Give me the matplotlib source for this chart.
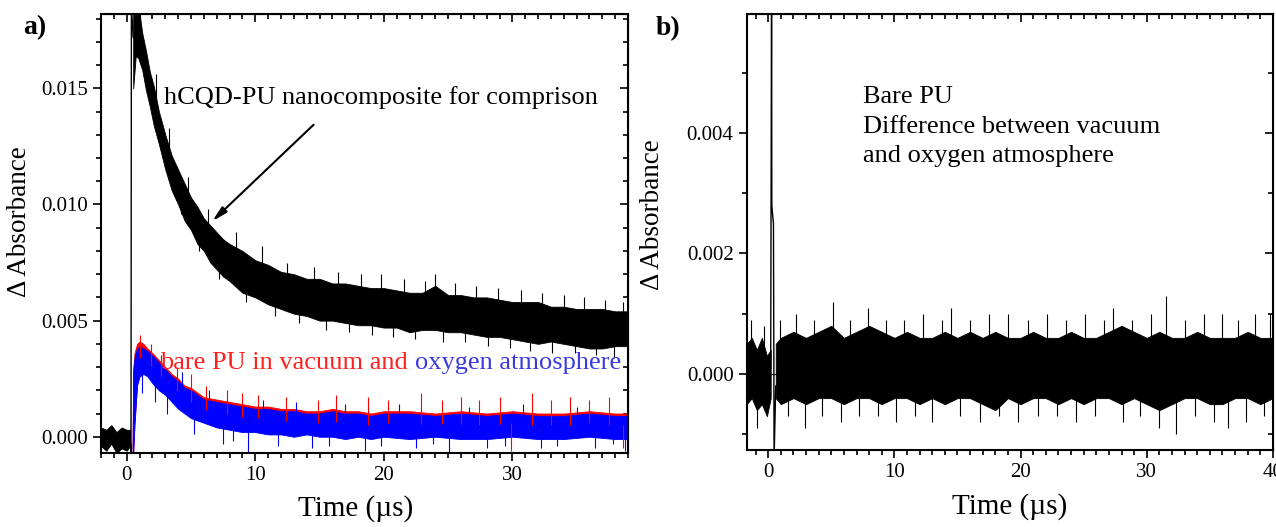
import matplotlib
matplotlib.use("Agg")
import matplotlib.pyplot as plt
import numpy as np
from matplotlib.ticker import MultipleLocator

plt.rcParams['font.family'] = ['Liberation Serif', 'DejaVu Serif']

# ---- panel a: hCQD-PU trace (black), envelope of the noisy band ----
a_black_pre_t = [-2.0, -1.6, -1.2, -0.8, -0.4, 0.0, 0.25]
a_black_pre_lo = [-0.0004, -0.0006, -0.0003, -0.0007, -0.0005, -0.0006, -0.0004]
a_black_pre_hi = [0.0004, 0.0003, 0.0005, 0.0002, 0.0004, 0.0003, 0.0003]

a_black_rise_t = [0.25, 0.33, 0.36, 0.5]
a_black_rise_y = [0.0, -0.0007, 0.0186, 0.0172]

a_black_t = [0.5, 0.7, 0.9, 1.2, 1.5, 1.8, 2.1, 2.5, 3.0, 3.5, 4.0, 4.5, 5.0, 5.5,
             6.0, 6.5, 7.0, 7.5, 8.0, 9, 10, 11, 12, 13, 14, 15, 16, 17, 18, 19,
             20, 21, 22, 23, 24, 25, 26, 27, 28, 29, 30, 31, 32, 33, 34, 35, 36,
             37, 38, 39]
a_black_lo = [0.0150, 0.0164, 0.0163, 0.0158, 0.0149, 0.0142, 0.0134, 0.0126, 0.0115,
              0.0106, 0.0100, 0.0093, 0.0089, 0.0083, 0.0080, 0.0075, 0.0072, 0.0069,
              0.0067, 0.0062, 0.0060, 0.0057, 0.0055, 0.0053, 0.0052, 0.0050, 0.0050,
              0.0049, 0.0048, 0.0048, 0.0047, 0.0047, 0.0045, 0.0046, 0.0046, 0.0045,
              0.0045, 0.0044, 0.0043, 0.0043, 0.0042, 0.0041, 0.0040, 0.0041, 0.0040,
              0.0039, 0.0038, 0.0038, 0.0039, 0.0039]
a_black_hi = [0.0190, 0.0190, 0.0186, 0.0174, 0.0166, 0.0157, 0.0151, 0.0140, 0.0130,
              0.0121, 0.0115, 0.0109, 0.0103, 0.0099, 0.0094, 0.0091, 0.0088, 0.0085,
              0.0083, 0.0080, 0.0076, 0.0074, 0.0071, 0.0070, 0.0068, 0.0068, 0.0066,
              0.0066, 0.0065, 0.0064, 0.0064, 0.0063, 0.0062, 0.0062, 0.0065, 0.0061,
              0.0061, 0.0060, 0.0060, 0.0059, 0.0058, 0.0058, 0.0058, 0.0056, 0.0056,
              0.0055, 0.0055, 0.0055, 0.0054, 0.0054]
# single noise spikes that stick out of the band (time, tip value)
a_black_spk_t = [1.0, 1.7, 2.3, 2.8, 3.3, 4.2, 4.8, 5.6, 6.3, 7.2, 8.5, 9.3, 10.5,
                 11.5, 12.5, 13.4, 14.6, 15.5, 16.4, 17.3, 18.2, 19.1, 19.8, 20.7,
                 21.6, 22.4, 23.2, 24.0, 24.6, 25.5, 26.3, 27.2, 28.1, 28.9, 29.8,
                 30.7, 31.4, 32.3, 33.1, 34.0, 34.9, 35.6, 36.5, 37.2, 37.9, 38.6]
a_black_spk_y = [0.0188, 0.0150, 0.0156, 0.0121, 0.0133, 0.0096, 0.0112, 0.0080,
                 0.0098, 0.0068, 0.0088, 0.0058, 0.0082, 0.0052, 0.0075, 0.0049,
                 0.0073, 0.0046, 0.0071, 0.0045, 0.0070, 0.0044, 0.0070, 0.0043,
                 0.0068, 0.0042, 0.0067, 0.0070, 0.0041, 0.0066, 0.0041, 0.0065,
                 0.0039, 0.0064, 0.0038, 0.0063, 0.0037, 0.0062, 0.0036, 0.0061,
                 0.0036, 0.0060, 0.0035, 0.0059, 0.0034, 0.0058]

# ---- panel a: bare PU in vacuum (red) and in oxygen (blue) ----
a_pu_t = [0.45, 0.5, 0.6, 0.8, 1.0, 1.3, 1.6, 2.0, 2.5, 3.0, 3.5, 4.0, 4.5, 5.0,
          5.5, 6.0, 7, 8, 9, 10, 11, 12, 13, 14, 15, 16, 17, 18, 19, 20, 22, 24,
          26, 28, 30, 32, 34, 36, 38, 39]
a_blue_lo = [-0.0007, -0.0007, 0.0005, 0.0022, 0.0026, 0.0027, 0.0026, 0.0023, 0.0020,
             0.0018, 0.0015, 0.0012, 0.0010, 0.0008, 0.0007, 0.0006, 0.0004, 0.0003,
             0.0002, 0.0002, 0.0001, 0.0001, 0.0000, 0.0001, 0.0000, 0.0000, -0.0001,
             0.0000, -0.0001, 0.0000, -0.0001, 0.0000, -0.0001, -0.0001, 0.0000,
             -0.0001, -0.0001, 0.0000, -0.0001, -0.0001]
a_blue_hi = [-0.0005, 0.0028, 0.0034, 0.0038, 0.0039, 0.0038, 0.0037, 0.0035, 0.0032,
             0.0029, 0.0026, 0.0024, 0.0021, 0.0020, 0.0018, 0.0016, 0.0015, 0.0014,
             0.0013, 0.0012, 0.0012, 0.0011, 0.0011, 0.0010, 0.0010, 0.0011, 0.0010,
             0.0010, 0.0009, 0.0010, 0.0010, 0.0009, 0.0010, 0.0009, 0.0010, 0.0009,
             0.0009, 0.0010, 0.0009, 0.0009]
a_red_lo = [-0.0007, -0.0007, 0.0006, 0.0023, 0.0027, 0.0028, 0.0027, 0.0024, 0.0021,
            0.0019, 0.0016, 0.0013, 0.0011, 0.0009, 0.0008, 0.0007, 0.0005, 0.0004,
            0.0003, 0.0003, 0.0002, 0.0002, 0.0001, 0.0002, 0.0001, 0.0001, 0.0000,
            0.0001, 0.0000, 0.0001, 0.0000, 0.0001, 0.0000, 0.0000, 0.0001,
            0.0000, 0.0000, 0.0001, 0.0000, 0.0000]
a_red_hi = [-0.0005, 0.0029, 0.0036, 0.0040, 0.0041, 0.0040, 0.0038, 0.0036, 0.0033,
            0.0030, 0.0027, 0.0025, 0.0022, 0.0021, 0.0019, 0.0017, 0.0016, 0.0015,
            0.0014, 0.0013, 0.0013, 0.0012, 0.0012, 0.0011, 0.0011, 0.0012, 0.0011,
            0.0011, 0.0010, 0.0011, 0.0011, 0.0010, 0.0011, 0.0010, 0.0011, 0.0010,
            0.0010, 0.0011, 0.0010, 0.0010]
a_blue_spk_t = [1.2, 2.2, 3.1, 4.3, 5.2, 6.4, 7.5, 8.3, 9.4, 10.6, 11.8, 13.2, 14.4,
                15.7, 17.0, 18.5, 19.8, 21.2, 22.5, 23.8, 25.1, 26.6, 28.0, 29.4,
                30.8, 32.2, 33.5, 35.0, 36.4, 37.8, 38.8]
a_blue_spk_y = [0.0019, 0.0015, 0.0010, 0.0028, 0.0001, 0.0020, -0.0003, -0.0002,
                -0.0007, 0.0016, -0.0004, 0.0015, -0.0005, -0.0004, 0.0014, -0.0006,
                -0.0004, 0.0014, -0.0005, -0.0003, -0.0007, 0.0013, -0.0005, -0.0004,
                0.0014, -0.0005, -0.0004, 0.0013, -0.0005, -0.0003, -0.0006]
a_red_spk_t = [1.0, 1.9, 2.7, 3.9, 5.0, 6.2, 7.8, 9.0, 10.2, 12.4, 14.9, 16.3, 18.8,
               20.3, 22.9, 24.5, 26.0, 27.4, 29.0, 29.9, 31.5, 33.0, 34.5, 36.0,
               37.5, 38.6]
a_red_spk_y = [0.0044, 0.0040, 0.0035, 0.0030, 0.0027, 0.0022, 0.0020, 0.0019,
               0.0018, 0.0017, 0.0016, 0.0018, 0.0017, 0.0016, 0.0019, 0.0016,
               0.0017, 0.0016, 0.0017, -0.0006, 0.0019, 0.0016, 0.0017, 0.0016,
               0.0017, -0.0005]

# ---- panel b: difference vacuum - oxygen ----
b_pre_t = [-1.7, -1.3, -0.9, -0.5, -0.1, 0.2]
b_pre_lo = [-0.0005, -0.0004, -0.0006, -0.0005, -0.0007, -0.0004]
b_pre_hi = [0.0005, 0.0006, 0.0004, 0.0006, 0.0003, 0.0004]

b_spike_t = [0.2, 0.27, 0.29, 0.33, 0.37, 0.42, 0.47, 0.6]
b_spike_y = [0.0001, 0.0065, 0.0028, 0.0027, 0.0026, 0.0025, -0.0014, -0.0002]

b_t = [0.6, 1, 2, 3, 4, 5, 6, 7, 8, 9, 10, 11, 12, 13, 14, 15, 16, 17, 18, 19, 20,
       21, 22, 23, 24, 25, 26, 27, 28, 29, 30, 31, 32, 33, 34, 35, 36, 37, 38, 39, 40]
b_lo = [-0.0004, -0.0005, -0.0004, -0.0005, -0.0004, -0.0004, -0.0005, -0.0004,
        -0.0004, -0.0005, -0.0004, -0.0004, -0.0005, -0.0004, -0.0005, -0.0004,
        -0.0004, -0.0005, -0.0006, -0.0004, -0.0005, -0.0004, -0.0004, -0.0005,
        -0.0004, -0.0005, -0.0004, -0.0004, -0.0005, -0.0004, -0.0005, -0.0006,
        -0.0005, -0.0004, -0.0004, -0.0005, -0.0005, -0.0004, -0.0004, -0.0005, -0.0004]
b_hi = [0.0005, 0.0006, 0.0007, 0.0006, 0.0007, 0.0008, 0.0006, 0.0007, 0.0008,
        0.0007, 0.0006, 0.0007, 0.0006, 0.0006, 0.0007, 0.0006, 0.0007, 0.0006,
        0.0007, 0.0006, 0.0006, 0.0007, 0.0006, 0.0006, 0.0007, 0.0006, 0.0006,
        0.0007, 0.0008, 0.0007, 0.0006, 0.0007, 0.0006, 0.0006, 0.0007, 0.0006,
        0.0006, 0.0006, 0.0007, 0.0006, 0.0006]
b_spk_t = [-1.4, -0.9, -0.3, 0.9, 1.6, 2.2, 2.9, 3.6, 4.3, 5.1, 5.8, 6.5, 7.2, 7.9,
           8.7, 9.3, 10.1, 10.8, 11.6, 12.3, 13.0, 13.8, 14.5, 15.2, 16.0, 16.8,
           17.5, 18.3, 19.0, 19.8, 20.6, 21.4, 22.1, 22.9, 23.6, 24.4, 25.1, 25.9,
           26.6, 27.3, 28.1, 28.8, 29.5, 30.3, 31.0, 31.5, 32.3, 33.0, 33.8, 34.5,
           35.3, 36.0, 36.4, 37.2, 37.9, 38.6, 39.3, 39.8]
b_spk_y = [0.0009, -0.0009, 0.0008, 0.0009, -0.0007, 0.0010, -0.0009, 0.0009,
           -0.0007, 0.0012, -0.0008, 0.0009, -0.0007, 0.0011, -0.0007, 0.0009,
           -0.0008, 0.0009, -0.0007, 0.0010, -0.0008, 0.0009, 0.0011, -0.0007,
           0.0009, -0.0008, 0.0010, -0.0007, 0.0010, -0.0008, 0.0009, -0.0007,
           0.0010, -0.0007, 0.0009, -0.0008, 0.0010, -0.0007, 0.0009, 0.0011,
           -0.0008, 0.0009, -0.0007, 0.0010, -0.0009, 0.0013, -0.0010, 0.0009,
           -0.0007, 0.0010, -0.0008, 0.0010, -0.0009, 0.0009, -0.0008, 0.0010,
           -0.0007, 0.0010]


def band(ax, t, lo, hi, color, spk_t=None, spk_y=None):
    ax.fill_between(t, lo, hi, color=color, lw=0.6)
    if spk_t is not None:
        mid = np.interp(spk_t, t, (np.array(lo) + np.array(hi)) / 2)
        ax.vlines(spk_t, mid, spk_y, color=color, lw=0.8)


def style_axes(ax, xmaj, xmin, ymaj, ymin, yfmt):
    ax.xaxis.set_major_locator(MultipleLocator(xmaj))
    ax.xaxis.set_minor_locator(MultipleLocator(xmin))
    ax.yaxis.set_major_locator(MultipleLocator(ymaj))
    ax.yaxis.set_minor_locator(MultipleLocator(ymin))
    ax.yaxis.set_major_formatter(yfmt)
    ax.tick_params(which='both', direction='out', width=1.2, labelsize=15)
    ax.tick_params(which='major', length=6)
    ax.tick_params(which='minor', length=3.5)
    for s in ax.spines.values():
        s.set_linewidth(1.5)
    # mirrored inward ticks on top and right
    top = ax.secondary_xaxis('top')
    top.xaxis.set_major_locator(MultipleLocator(xmaj))
    top.xaxis.set_minor_locator(MultipleLocator(xmin))
    top.tick_params(which='both', direction='in', labeltop=False, width=1.2)
    top.tick_params(which='major', length=6)
    top.tick_params(which='minor', length=3.5)
    right = ax.secondary_yaxis('right')
    right.yaxis.set_major_locator(MultipleLocator(ymaj))
    right.yaxis.set_minor_locator(MultipleLocator(ymin))
    right.tick_params(which='both', direction='in', labelright=False, width=1.2)
    right.tick_params(which='major', length=6)
    right.tick_params(which='minor', length=3.5)


fig = plt.figure(figsize=(12.76, 5.27), dpi=100)
ax1 = fig.add_axes([0.0792, 0.1404, 0.4130, 0.8330])
ax2 = fig.add_axes([0.5852, 0.1461, 0.4124, 0.8273])

# panel a
band(ax1, a_pu_t, a_red_lo, a_red_hi, 'red', a_red_spk_t, a_red_spk_y)
band(ax1, a_pu_t, a_blue_lo, a_blue_hi, 'blue', a_blue_spk_t, a_blue_spk_y)
band(ax1, a_black_pre_t, a_black_pre_lo, a_black_pre_hi, 'black')
ax1.plot(a_black_rise_t, a_black_rise_y, color='black', lw=1.0)
band(ax1, a_black_t, a_black_lo, a_black_hi, 'black', a_black_spk_t, a_black_spk_y)
ax1.set_xlim(-2, 39)
ax1.set_ylim(-0.0007, 0.0182)
style_axes(ax1, 10, 1, 0.005, 0.001, '{x:.3f}')
ax1.set_xlabel('Time (µs)', fontsize=21)
ax1.xaxis.set_label_coords(0.484, -0.095)
ax1.set_ylabel('Δ Absorbance', fontsize=19.5)
ax1.yaxis.set_label_coords(-0.131, 0.528)

ax1.text(2.9, 0.0146, 'hCQD-PU nanocomposite for comprison', fontsize=19,
         va='center', ha='left')
ax1.annotate('', xy=(6.5, 0.0092), xytext=(14.7, 0.01352),
             arrowprops=dict(arrowstyle='-|>,head_width=0.22,head_length=0.9',
                             lw=1.5, color='black'))
t1 = ax1.text(2.6, 0.00318, 'bare PU in vacuum and ', fontsize=19, color='#ff2020',
              va='center', ha='left')
ax1.annotate('oxygen atmosphere', xy=(1, 0), xycoords=t1, va='bottom', ha='left',
             fontsize=19, color='#3a3ae0')

# panel b
ax2.axhline(0, color='black', lw=0.8)
band(ax2, b_pre_t, b_pre_lo, b_pre_hi, 'black')
ax2.plot(b_spike_t, b_spike_y, color='black', lw=1.0)
band(ax2, b_t, b_lo, b_hi, 'black', b_spk_t, b_spk_y)
ax2.set_xlim(-1.7, 40)
ax2.set_ylim(-0.00126, 0.00597)
style_axes(ax2, 10, 1, 0.002, 0.001, '{x:.3f}')
ax2.set_xlabel('Time (µs)', fontsize=21, labelpad=8)
ax2.set_ylabel('Δ Absorbance', fontsize=19.5)
ax2.yaxis.set_label_coords(-0.156, 0.539)
ax2.text(7.5, 0.00477, 'Bare PU\nDifference between vacuum\nand oxygen atmosphere',
         fontsize=19, va='top', ha='left', linespacing=1.43)

fig.text(0.018, 0.948, 'a)', fontsize=20, fontweight='bold', va='center')
fig.text(0.514, 0.946, 'b)', fontsize=20, fontweight='bold', va='center')

fig.savefig('out.png', dpi=100)
